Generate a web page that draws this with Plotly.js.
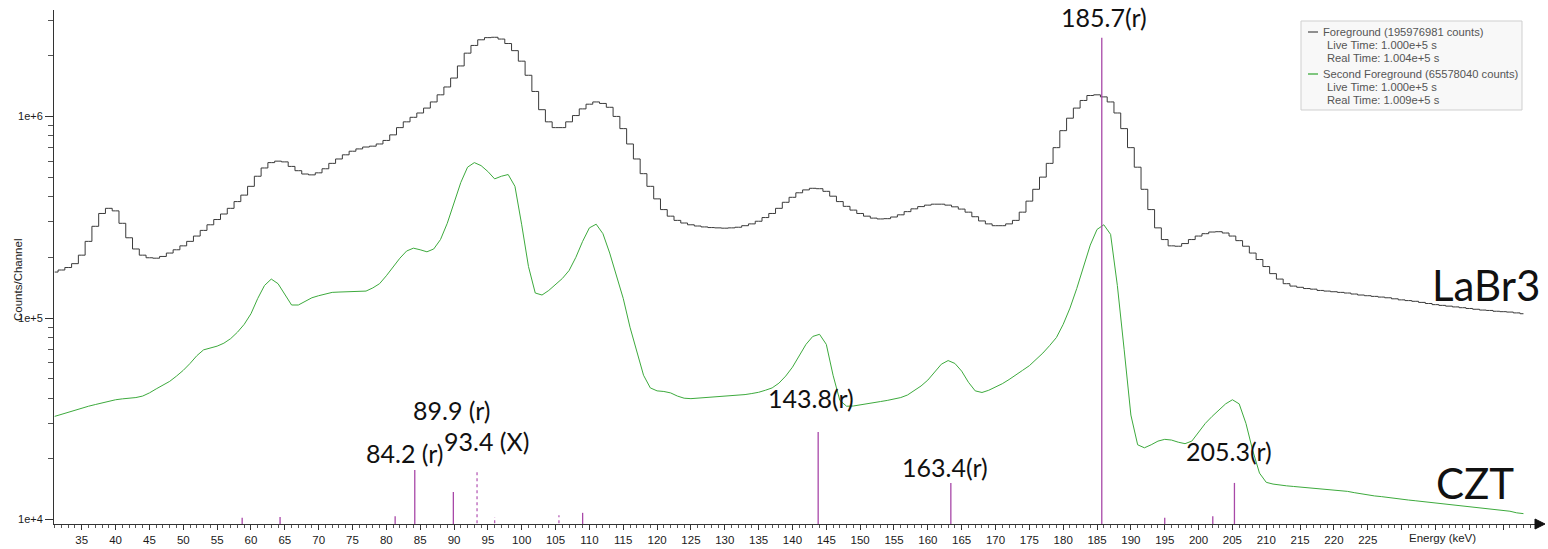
<!DOCTYPE html>
<html>
<head>
<meta charset="utf-8">
<script src="https://cdn.plot.ly/plotly-3.0.1.min.js"></script>
<style>html,body{margin:0;padding:0;background:#fff;}#chart{width:1548px;height:549px;}</style>
</head>
<body>
<div id="chart"></div>
<script>
// ---- channel calibration (1 keV bins starting at 31 keV) ----
const CH_START = 31;
const CH_WIDTH = 1;

// LaBr3 spectrum (Foreground), counts per channel, 31..248 keV
const labr3Counts = [
  1.69e5,1.73e5,1.78e5,1.86e5,2.05e5,2.40e5,2.85e5,3.30e5,3.50e5,3.40e5,
  2.95e5,2.50e5,2.20e5,2.05e5,1.99e5,1.98e5,2.02e5,2.10e5,2.18e5,2.28e5,
  2.40e5,2.55e5,2.72e5,2.90e5,3.08e5,3.28e5,3.50e5,3.78e5,4.07e5,4.50e5,
  5.05e5,5.55e5,5.90e5,6.00e5,5.95e5,5.65e5,5.38e5,5.18e5,5.13e5,5.25e5,
  5.50e5,5.85e5,6.15e5,6.45e5,6.72e5,6.90e5,7.05e5,7.12e5,7.30e5,7.60e5,
  8.10e5,8.80e5,9.40e5,9.90e5,1.04e6,1.10e6,1.18e6,1.28e6,1.40e6,1.55e6,
  1.78e6,2.06e6,2.25e6,2.40e6,2.46e6,2.47e6,2.42e6,2.30e6,2.12e6,1.88e6,
  1.60e6,1.33e6,1.08e6,9.40e5,8.80e5,8.80e5,9.40e5,1.01e6,1.09e6,1.15e6,
  1.18e6,1.16e6,1.11e6,1.00e6,8.70e5,7.30e5,6.15e5,5.20e5,4.50e5,3.90e5,
  3.45e5,3.20e5,3.05e5,2.96e5,2.90e5,2.86e5,2.83e5,2.81e5,2.80e5,2.79e5,
  2.80e5,2.82e5,2.87e5,2.93e5,3.02e5,3.15e5,3.30e5,3.50e5,3.75e5,3.97e5,
  4.18e5,4.32e5,4.40e5,4.38e5,4.25e5,4.02e5,3.78e5,3.58e5,3.43e5,3.30e5,
  3.20e5,3.13e5,3.10e5,3.11e5,3.17e5,3.25e5,3.37e5,3.48e5,3.57e5,3.63e5,
  3.67e5,3.67e5,3.63e5,3.56e5,3.47e5,3.35e5,3.18e5,3.03e5,2.93e5,2.87e5,
  2.87e5,2.93e5,3.05e5,3.35e5,3.80e5,4.35e5,5.00e5,5.85e5,7.00e5,8.50e5,
  9.80e5,1.10e6,1.20e6,1.27e6,1.28e6,1.25e6,1.18e6,1.04e6,8.70e5,7.00e5,
  5.60e5,4.35e5,3.45e5,2.80e5,2.45e5,2.28e5,2.27e5,2.34e5,2.45e5,2.55e5,
  2.62e5,2.67e5,2.68e5,2.64e5,2.55e5,2.42e5,2.27e5,2.10e5,1.95e5,1.80e5,
  1.66e5,1.56e5,1.48e5,1.44e5,1.42e5,1.40e5,1.39e5,1.37e5,1.36e5,1.35e5,
  1.34e5,1.33e5,1.315e5,1.30e5,1.29e5,1.28e5,1.27e5,1.26e5,1.245e5,1.23e5,
  1.22e5,1.21e5,1.195e5,1.18e5,1.165e5,1.155e5,1.145e5,1.135e5,1.125e5,1.115e5,
  1.105e5,1.095e5,1.09e5,1.08e5,1.075e5,1.07e5,1.06e5,1.05e5
];

// CZT spectrum (Second Foreground), counts per channel, 31..248 keV
const cztCounts = [
  3.25e4,3.33e4,3.40e4,3.48e4,3.57e4,3.65e4,3.72e4,3.80e4,3.88e4,3.93e4,
  3.97e4,4.00e4,4.03e4,4.10e4,4.25e4,4.45e4,4.63e4,4.85e4,5.15e4,5.50e4,
  5.95e4,6.50e4,6.95e4,7.10e4,7.25e4,7.50e4,7.90e4,8.50e4,9.30e4,1.05e5,
  1.25e5,1.45e5,1.56e5,1.48e5,1.30e5,1.16e5,1.16e5,1.21e5,1.26e5,1.29e5,
  1.32e5,1.34e5,1.345e5,1.35e5,1.35e5,1.35e5,1.36e5,1.41e5,1.48e5,1.62e5,
  1.80e5,1.98e5,2.15e5,2.22e5,2.18e5,2.13e5,2.20e5,2.45e5,2.95e5,3.70e5,
  4.70e5,5.60e5,5.90e5,5.70e5,5.33e5,4.90e5,5.05e5,5.15e5,4.50e5,2.90e5,
  1.80e5,1.33e5,1.30e5,1.37e5,1.46e5,1.57e5,1.72e5,2.00e5,2.40e5,2.80e5,
  2.92e5,2.62e5,2.10e5,1.60e5,1.25e5,9.00e4,6.90e4,5.20e4,4.50e4,4.35e4,
  4.32e4,4.25e4,4.10e4,4.00e4,3.98e4,4.00e4,4.02e4,4.05e4,4.06e4,4.08e4,
  4.10e4,4.13e4,4.17e4,4.22e4,4.28e4,4.38e4,4.50e4,4.75e4,5.15e4,5.70e4,
  6.50e4,7.40e4,8.10e4,8.30e4,7.40e4,5.20e4,3.90e4,3.65e4,3.66e4,3.70e4,
  3.75e4,3.80e4,3.85e4,3.90e4,3.96e4,4.03e4,4.15e4,4.35e4,4.60e4,4.92e4,
  5.40e4,5.90e4,6.15e4,5.95e4,5.45e4,4.80e4,4.35e4,4.27e4,4.38e4,4.55e4,
  4.72e4,4.95e4,5.20e4,5.50e4,5.80e4,6.20e4,6.70e4,7.30e4,8.00e4,9.30e4,
  1.12e5,1.40e5,1.80e5,2.30e5,2.75e5,2.90e5,2.60e5,1.45e5,7.00e4,3.30e4,
  2.35e4,2.27e4,2.35e4,2.45e4,2.50e4,2.48e4,2.42e4,2.38e4,2.45e4,2.70e4,
  3.00e4,3.25e4,3.50e4,3.75e4,3.93e4,3.75e4,3.00e4,2.20e4,1.70e4,1.53e4,
  1.50e4,1.48e4,1.47e4,1.46e4,1.45e4,1.44e4,1.43e4,1.42e4,1.41e4,1.405e4,
  1.40e4,1.38e4,1.36e4,1.34e4,1.32e4,1.31e4,1.30e4,1.29e4,1.28e4,1.26e4,
  1.25e4,1.24e4,1.23e4,1.22e4,1.21e4,1.20e4,1.19e4,1.18e4,1.17e4,1.16e4,
  1.15e4,1.14e4,1.13e4,1.12e4,1.11e4,1.10e4,1.08e4,1.07e4
];

// reference gamma lines (solid) and X-ray lines (dotted)
const refLineEnergies = [58.7, 64.3, 81.3, 84.2, 89.9, 109.0, 143.8, 163.4, 185.7, 195.0, 202.1, 205.3];
const refLineHeights  = [1.02e4, 1.03e4, 1.04e4, 1.76e4, 1.37e4, 1.08e4, 2.72e4, 1.52e4, 2.46e6, 1.02e4, 1.04e4, 1.52e4];
const xrayLineEnergies = [93.4, 96.0, 105.5];
const xrayLineHeights  = [1.76e4, 1.03e4, 1.05e4];

// peak labels
const peakLabelText = ['185.7(r)', '89.9 (r)', '84.2 (r)', '93.4 (X)', '143.8(r)', '163.4(r)', '205.3(r)'];
const peakLabelX    = [186.0, 89.7, 82.8, 94.8, 142.7, 162.5, 204.5];
const peakLabelY    = [3.12e6, 3.49e4, 2.14e4, 2.45e4, 4.0e4, 1.82e4, 2.19e4];

// detector labels
const detLabelText = ['LaBr3', 'CZT'];
const detLabelX    = [242.5, 240.8];
const detLabelY    = [1.46e5, 1.52e4];

// x tick labels
const xTickStart = 35, xTickEnd = 245, xTickStep = 5, xLabelLast = 225;

// legend texts
const legendLines = [
  ['Foreground (195976981 counts)', 'Live Time: 1.000e+5 s', 'Real Time: 1.004e+5 s'],
  ['Second Foreground (65578040 counts)', 'Live Time: 1.000e+5 s', 'Real Time: 1.009e+5 s']
];

// ---- build ----
const energies = labr3Counts.map((_, i) => CH_START + i * CH_WIDTH);

function sticks(xs, hs) {
  const x = [], y = [];
  xs.forEach((e, i) => { x.push(e, e, null); y.push(1e3, hs[i], null); });
  return {x, y};
}
const s1 = sticks(refLineEnergies, refLineHeights);
const s2 = sticks(xrayLineEnergies, xrayLineHeights);

const traces = [
  {x: energies, y: labr3Counts, type: 'scatter', mode: 'lines', name: 'Foreground',
   line: {color: '#3a3a3a', width: 1, shape: 'hvh'}},
  {x: energies, y: cztCounts, type: 'scatter', mode: 'lines', name: 'Second Foreground',
   line: {color: '#3daa3d', width: 1, shape: 'linear'}},
  {x: s1.x, y: s1.y, type: 'scatter', mode: 'lines', name: 'lines', connectgaps: false,
   line: {color: '#a848a8', width: 1.3}},
  {x: s2.x, y: s2.y, type: 'scatter', mode: 'lines', name: 'xray', connectgaps: false,
   line: {color: '#b860b8', width: 1.3, dash: 'dot'}}
];

const xTickVals = [], xTickText = [];
for (let v = xTickStart; v <= xTickEnd; v += xTickStep) {
  xTickVals.push(v); xTickText.push(v <= xLabelLast ? String(v) : '');
}
const yMinor = [];
[1e4, 1e5, 1e6].forEach(d => { for (let k = 2; k <= 9; k++) if (d * k < 3.4e6) yMinor.push(d * k); });

// pixel -> paper helpers for decorations
const PL = 54, PW = 1483, PB = 524, PH = 514;
const px = v => (v - PL) / PW;
const py = v => (PB - v) / PH;

const annotations = [];
peakLabelText.forEach((t, i) => annotations.push({
  x: peakLabelX[i], y: Math.log10(peakLabelY[i]), xref: 'x', yref: 'y', text: t, showarrow: false,
  font: {family: 'Lato, "Noto Sans", sans-serif', size: 25, color: '#111'}, xanchor: 'center', yanchor: 'middle'
}));
detLabelText.forEach((t, i) => annotations.push({
  x: detLabelX[i], y: Math.log10(detLabelY[i]), xref: 'x', yref: 'y', text: t, showarrow: false,
  font: {family: 'Lato, "Noto Sans", sans-serif', size: 42, color: '#111'}, xanchor: 'center', yanchor: 'middle'
}));
// axis titles
annotations.push({x: px(1442), y: py(538), xref: 'paper', yref: 'paper', text: 'Energy (keV)',
  showarrow: false, xanchor: 'center', yanchor: 'middle',
  font: {family: '"Liberation Sans", Arial, sans-serif', size: 11.5, color: '#222'}});
annotations.push({x: px(18), y: py(280), xref: 'paper', yref: 'paper', text: 'Counts/Channel',
  showarrow: false, xanchor: 'center', yanchor: 'middle', textangle: -90,
  font: {family: '"Liberation Sans", Arial, sans-serif', size: 11.5, color: '#222'}});
// legend text, one annotation per line
const legColors = ['#555555', '#3daa3d'];
const legLineY = [[32, 45, 57.5], [74, 87, 100]];
legendLines.forEach((lines, g) => {
  lines.forEach((l, j) => {
    annotations.push({x: j === 0 ? px(1321) : px(1325), y: py(legLineY[g][j]), xref: 'paper', yref: 'paper',
      text: l, showarrow: false, xanchor: 'left', yanchor: 'middle', align: 'left',
      font: {family: '"Liberation Sans", Arial, sans-serif', size: 11.2, color: '#555'}});
  });
});

const legShapes = legColors.map((c, g) => ({type: 'line', xref: 'paper', yref: 'paper',
  x0: px(1308), x1: px(1318), y0: py(legLineY[g][0]), y1: py(legLineY[g][0]), line: {color: c, width: 1.3}, layer: 'above'}));

const layout = {
  width: 1548, height: 549,
  margin: {l: 54, r: 11, t: 10, b: 25},
  paper_bgcolor: '#fff', plot_bgcolor: '#fff',
  showlegend: false,
  font: {family: '"Liberation Sans", Arial, sans-serif', size: 11, color: '#222'},
  xaxis: {
    range: [30.9, 250], showgrid: false, zeroline: false, showline: true, linecolor: '#333', linewidth: 1,
    tickmode: 'array', tickvals: xTickVals, ticktext: xTickText, ticks: 'outside', ticklen: 5, tickcolor: '#333',
    minor: {dtick: 1, tick0: 0, ticks: 'outside', ticklen: 3, tickcolor: '#555'},
    tickfont: {size: 11.5, color: '#1a1a1a'}, automargin: false
  },
  yaxis: {
    type: 'log', range: [3.978, 6.528], showgrid: false, zeroline: false, showline: true, linecolor: '#333', linewidth: 1,
    tickmode: 'array', tickvals: [1e4, 1e5, 1e6], ticktext: ['1e+4', '1e+5', '1e+6'],
    ticks: 'outside', ticklen: 8, tickcolor: '#333',
    minor: {tickmode: 'array', tickvals: yMinor, ticks: 'outside', ticklen: 5, tickcolor: '#555'},
    tickfont: {size: 11, color: '#1a1a1a'}, automargin: false
  },
  shapes: [
    {type: 'rect', xref: 'paper', yref: 'paper', x0: px(1301), x1: px(1522),
     y0: py(110), y1: py(21), fillcolor: '#f8f8f8', line: {color: '#cfcfcf', width: 1}, layer: 'above'},
    {type: 'path', xref: 'paper', yref: 'paper', xsizemode: 'pixel', ysizemode: 'pixel', xanchor: 1, yanchor: 0,
     path: 'M -2 5 L 8 0 L -2 -5 Z', fillcolor: '#111', line: {color: '#111', width: 1}}
  ].concat(legShapes),
  annotations: annotations
};

Plotly.newPlot('chart', traces, layout, {staticPlot: true, displayModeBar: false});
</script>
</body>
</html>
